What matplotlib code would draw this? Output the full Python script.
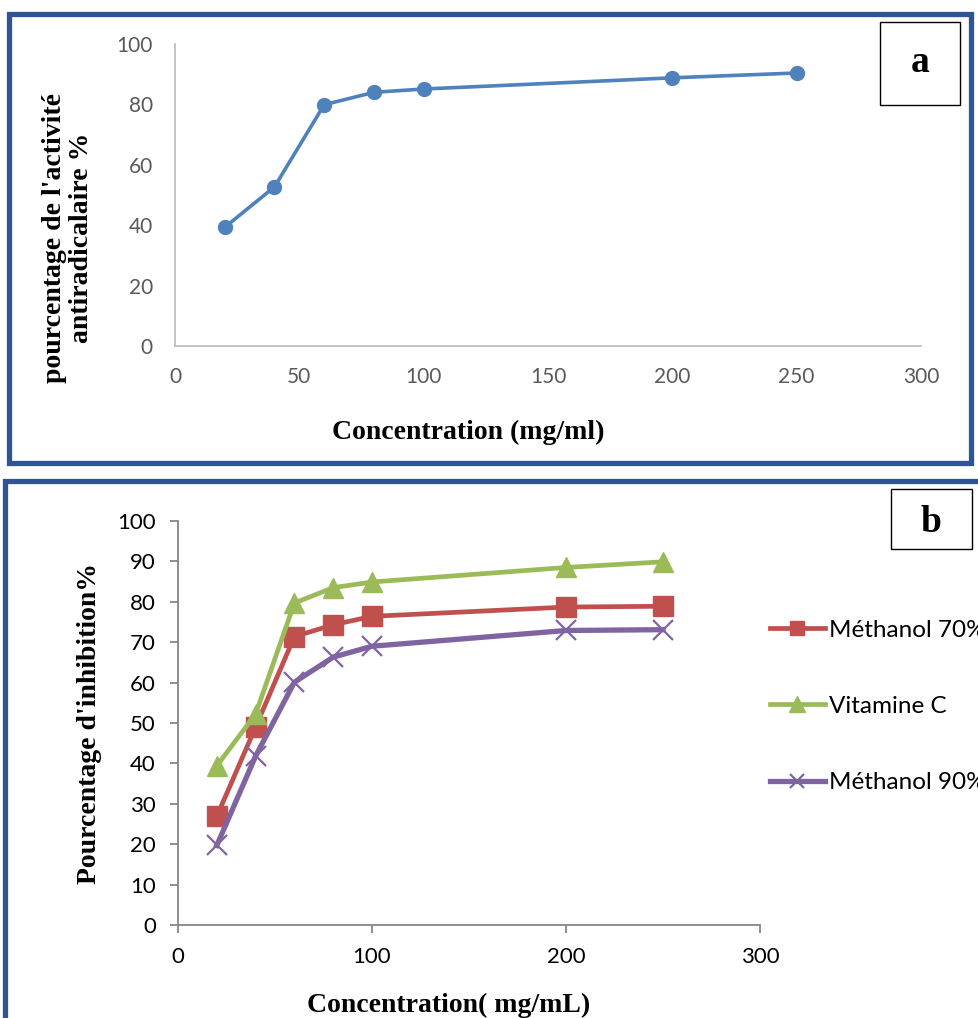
import matplotlib
matplotlib.use("Agg")
import matplotlib.pyplot as plt
from matplotlib.patches import Rectangle

# ---- data panel a ----
conc_a = [20, 40, 60, 80, 100, 200, 250]
activite_a = [39.3, 52.7, 79.9, 84.0, 85.1, 88.8, 90.4]

# ---- data panel b ----
conc_b = [20, 40, 60, 80, 100, 200, 250]
methanol70 = [26.9, 49.0, 71.4, 74.3, 76.4, 78.7, 78.9]
vitamine_c = [39.4, 52.2, 79.7, 83.5, 84.9, 88.5, 89.9]
methanol90 = [19.7, 41.8, 60.1, 66.3, 69.0, 72.9, 73.1]

W, H = 979, 1018
fig = plt.figure(figsize=(W / 100, H / 100), dpi=100)

def fx(px):
    return px / W

def fy(py):
    return 1 - py / H

serif = "Liberation Serif"
sans = "Lato"
border_col = "#2F5597"

# ---- borders ----
fig.add_artist(Rectangle((fx(9), fy(463)), fx(971) - fx(9), fy(14) - fy(463),
                         transform=fig.transFigure, fill=False, ec=border_col, lw=3.8))
fig.add_artist(Rectangle((fx(5), fy(1030)), fx(1000) - fx(5), fy(481) - fy(1030),
                         transform=fig.transFigure, fill=False, ec=border_col, lw=3.8))

# ---- panel a ----
axa = fig.add_axes([fx(175), fy(346), fx(921) - fx(175), fy(44) - fy(346)])
axa.plot(conc_a, activite_a, color="#4F81BD", lw=2.6, marker="o", ms=10)
axa.set_xlim(0, 300)
axa.set_ylim(0, 100)
axa.set_xticks([0, 50, 100, 150, 200, 250, 300])
axa.set_yticks([0, 20, 40, 60, 80, 100])
for s in ["top", "right"]:
    axa.spines[s].set_visible(False)
for s in ["left", "bottom"]:
    axa.spines[s].set_color("#BFBFBF")
    axa.spines[s].set_linewidth(1.3)
axa.tick_params(length=0, labelsize=15, labelcolor="#595959")
axa.tick_params(axis="y", pad=16)
axa.tick_params(axis="x", pad=15)
for t in axa.get_xticklabels() + axa.get_yticklabels():
    t.set_fontfamily(sans)
fig.text(fx(68), fy(238), "pourcentage de l'activité\nantiradicalaire %", rotation=90,
         ha="center", va="center", fontfamily=serif, fontweight="bold",
         fontsize=20, linespacing=1.1)
fig.text(fx(468), fy(432), "Concentration (mg/ml)", ha="center", va="center",
         fontfamily=serif, fontweight="bold", fontsize=20)
fig.add_artist(Rectangle((fx(880), fy(105)), fx(960) - fx(880), fy(22) - fy(105),
                         transform=fig.transFigure, fill=False, ec="black", lw=1.0))
fig.text(fx(920), fy(63), "a", ha="center", va="center", fontfamily=serif,
         fontweight="bold", fontsize=27)

# ---- panel b ----
axb = fig.add_axes([fx(178), fy(925), fx(760) - fx(178), fy(521) - fy(925)])
axb.plot(conc_b, methanol70, color="#C0504D", lw=3.4, marker="s", ms=14,
         label="Méthanol 70%")
axb.plot(conc_b, vitamine_c, color="#9BBB59", lw=3.4, marker="^", ms=15,
         label="Vitamine C")
axb.plot(conc_b, methanol90, color="#8064A2", lw=3.8, marker="x", ms=14, mew=1.6,
         label="Méthanol 90%")
axb.set_xlim(0, 300)
axb.set_ylim(0, 100)
axb.set_xticks([0, 100, 200, 300])
axb.set_yticks(range(0, 101, 10))
for s in ["top", "right"]:
    axb.spines[s].set_visible(False)
for s in ["left", "bottom"]:
    axb.spines[s].set_color("#868686")
    axb.spines[s].set_linewidth(1.3)
axb.tick_params(direction="out", length=6, width=1.3, color="#868686",
                labelsize=16, labelcolor="black")
axb.tick_params(axis="y", pad=10)
axb.tick_params(axis="x", pad=10)
for t in axb.get_xticklabels() + axb.get_yticklabels():
    t.set_fontfamily(sans)
fig.text(fx(90), fy(723), "Pourcentage d'inhibition%", rotation=90,
         ha="center", va="center", fontfamily=serif, fontweight="bold", fontsize=20)
fig.text(fx(449), fy(1005), "Concentration( mg/mL)", ha="center", va="center",
         fontfamily=serif, fontweight="bold", fontsize=20)
leg = axb.legend(loc="upper left", bbox_to_anchor=(fx(760), fy(610)),
                 bbox_transform=fig.transFigure, frameon=False,
                 prop={"family": sans, "size": 17.5}, handlelength=2.26,
                 handletextpad=0.16, labelspacing=2.27, borderaxespad=0,
                 markerscale=0.75)
fig.add_artist(Rectangle((fx(891), fy(549)), fx(972) - fx(891), fy(489) - fy(549),
                         transform=fig.transFigure, fill=False, ec="black", lw=1.0))
fig.text(fx(931), fy(522), "b", ha="center", va="center", fontfamily=serif,
         fontweight="bold", fontsize=27)

fig.savefig("out.png", dpi=100)
